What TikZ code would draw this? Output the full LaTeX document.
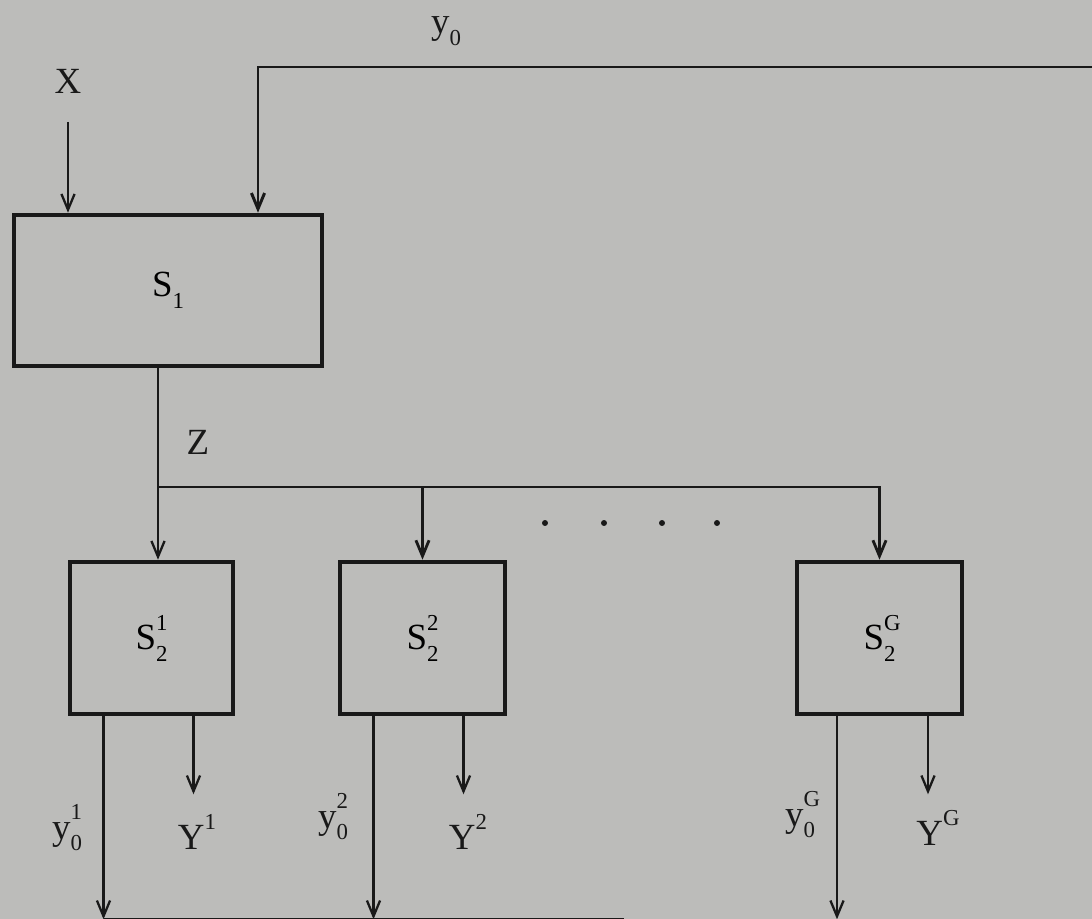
\documentclass[tikz,border=0pt]{standalone}
\usepackage{fontspec}
\setmainfont{Liberation Serif}
\usepackage{xcolor}
\usepackage{tikz}
\usetikzlibrary{arrows.meta, positioning}

\definecolor{paper}{RGB}{188,188,186}
\definecolor{ink}{RGB}{25,25,25}

% small size for indices
\newcommand{\ixsize}{\fontsize{13}{13}\selectfont}
% letter with a lower and an upper index, all in the text font
\newcommand{\idx}[3]{#1\rlap{\raisebox{0.52em}{\ixsize #3}}\raisebox{-0.32em}{\ixsize #2}}
\newcommand{\lo}[2]{#1\raisebox{-0.32em}{\ixsize #2}}
\newcommand{\hi}[2]{#1\raisebox{0.52em}{\ixsize #2}}

\begin{document}
\begin{tikzpicture}[
  box/.style={draw=ink, line width=2.6pt, font=\fontsize{21}{24}\selectfont},
  lbl/.style={text=ink, font=\fontsize{21}{24}\selectfont},
  arrow/.style={draw=ink, line width=1.3pt, -{Straight Barb[length=9pt,width=7.5pt]}},
  wire/.style={draw=ink, line width=1.3pt}
]
\fill[paper] (0,0) rectangle (21.84,-18.38);
\useasboundingbox (0,0) rectangle (21.84,-18.38);

% Nodes
\node[box, minimum width=6.16cm, minimum height=3.02cm] (s1) at (3.36,-5.81) {\lo{S}{1}};
\node[box, minimum width=3.26cm, minimum height=3.04cm] (s21) at (3.03,-12.76) {\idx{S}{2}{1}};
\node[box, minimum width=3.3cm, minimum height=3.04cm] (s22) at (8.45,-12.76) {\idx{S}{2}{2}};
\node[box, minimum width=3.3cm, minimum height=3.04cm] (s2g) at (17.59,-12.76) {\idx{S}{2}{G}};

\node[lbl] (xin) at (1.36,-1.62) {X};
\node[lbl] (y0) at (8.92,-0.62) {\lo{y}{0}};
\node[lbl] (z) at (3.96,-8.84) {Z};

\coordinate (top) at (5.16,-1.34);
\coordinate (topend) at (21.84,-1.34);
\coordinate (zb) at (3.16,-9.74);

% dots between the second and the last block
\foreach \dx in {10.9,12.08,13.24,14.34}
  \fill[ink] (\dx,-10.46) circle (1.7pt);

% Pointers
\draw[arrow] ([yshift=-0.45cm]xin.south) -- (xin |- s1.north);
\draw[arrow, line width=1.7pt] (topend) -- (top) -- (top |- s1.north);
\draw[arrow] (zb |- s1.south) -- (zb |- s21.north);
\draw[arrow, line width=1.6pt] (zb) -| (s22.north);
\draw[arrow, line width=1.6pt] (zb) -| (s2g.north);

% Outputs
\foreach \b/\l/\r in {s21/-0.96/0.84, s22/-0.98/0.82, s2g/-0.85/0.97} {
  \draw[arrow] ([xshift=\l cm]\b.south) -- ++(0,-4.06) coordinate (\b-end);
  \draw[arrow] ([xshift=\r cm]\b.south) -- ++(0,-1.56);
}
\node[lbl] (y01) at (1.34,-16.56) {\idx{y}{0}{1}};
\node[lbl] (yy1) at (3.94,-16.64) {\hi{Y}{1}};
\node[lbl] (y02) at (6.66,-16.34) {\idx{y}{0}{2}};
\node[lbl] (yy2) at (9.36,-16.64) {\hi{Y}{2}};
\node[lbl] (y0g) at (16.0,-16.3) {\idx{y}{0}{G}};
\node[lbl] (yyg) at (18.76,-16.56) {\hi{Y}{G}};

\draw[wire] (s21-end) -- ++(10.4,0);
\end{tikzpicture}
\end{document}
